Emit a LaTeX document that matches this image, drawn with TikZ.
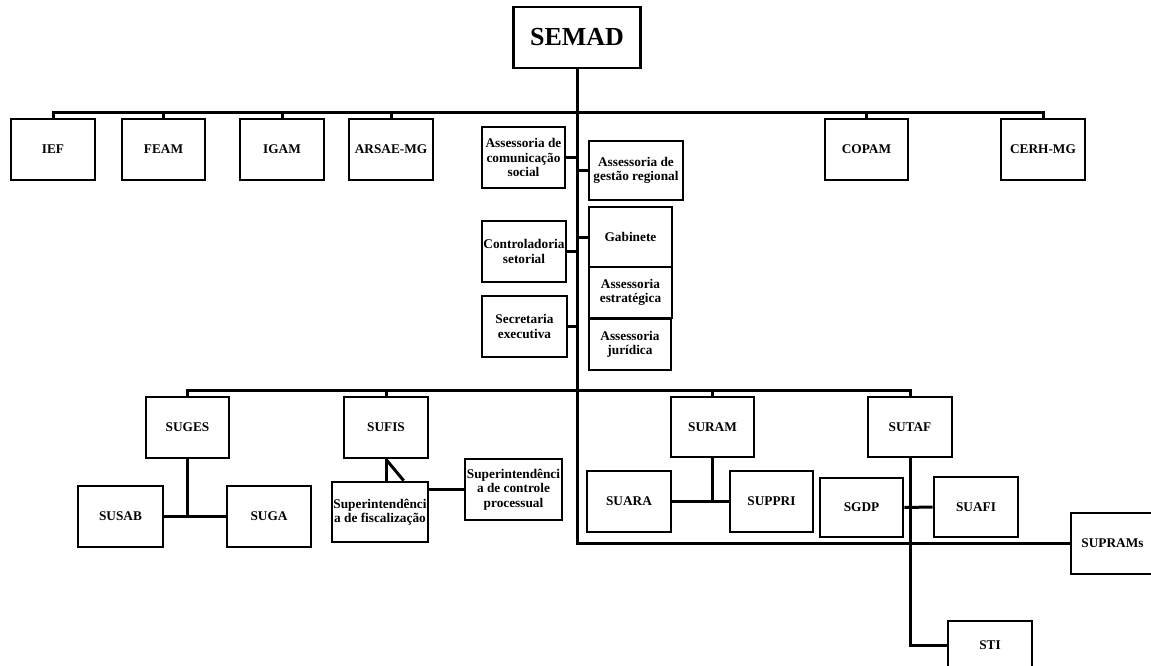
\documentclass[tikz,border=0pt]{standalone}
\usepackage{fontspec}
\setmainfont{Liberation Serif}
\usetikzlibrary{calc}
\begin{document}
\begin{tikzpicture}[x=1pt,y=-1pt,
  box/.style={draw, line width=2.7pt, inner sep=0pt, align=center, fill=white,
    font=\bfseries\fontsize{13.3}{14.5}\selectfont},
  big/.style={font=\bfseries\fontsize{26}{28}\selectfont},
  ln/.style={line width=3pt}]
\useasboundingbox (0,0) rectangle (1151,666);
\clip (0,0) rectangle (1151,666);
\newcommand\bx[6]{\node[box,minimum width=#4pt,minimum height=#5pt] (#1) at (#2,#3) {#6};}
% top
\node[box,big,minimum width=127pt,minimum height=61pt] (semad) at (577,37.5) {SEMAD};
\bx{ief}{53}{149.5}{84}{61}{IEF}
\bx{feam}{163.5}{149.5}{83}{61}{FEAM}
\bx{igam}{282}{149.5}{84}{61}{IGAM}
\bx{arsae}{391}{149.5}{84}{61}{ARSAE-MG}
\bx{copam}{866.5}{149.5}{83}{61}{COPAM}
\bx{cerh}{1043}{149.5}{84}{61}{CERH-MG}
% middle staff
\bx{acs}{523.5}{157.5}{83}{61}{Assessoria de\\comunicação\\social}
\bx{agr}{636}{170.5}{94}{59}{Assessoria de\\gestão regional}
\bx{ctrl}{524}{251.5}{84}{61}{Controladoria\\setorial}
\bx{gab}{630.5}{237}{83}{60}{Gabinete}
\bx{aest}{630.5}{292.5}{83}{51}{Assessoria\\estratégica}
\bx{sec}{524.5}{326.5}{85}{61}{Secretaria\\executiva}
\bx{jur}{630}{344.5}{82}{51}{Assessoria\\jurídica}
% bottom
\bx{suges}{187.5}{427.5}{83}{61}{SUGES}
\bx{sufis}{386}{427.5}{84}{61}{SUFIS}
\bx{suram}{712.5}{427}{83}{60}{SURAM}
\bx{sutaf}{910}{427}{84}{60}{SUTAF}
\bx{susab}{120.5}{516.5}{85}{61}{SUSAB}
\bx{suga}{269}{516.5}{84}{61}{SUGA}
\bx{fisc}{380}{512}{96}{60}{Superintendênci\\a de fiscalização}
\bx{ctrlp}{513.5}{489.5}{97}{61}{Superintendênci\\a de controle\\processual}
\bx{suara}{629}{501.5}{84}{61}{SUARA}
\bx{suppri}{771.5}{501.5}{83}{61}{SUPPRI}
\bx{sgdp}{861.5}{507.5}{83}{59}{SGDP}
\bx{suafi}{976}{507}{84}{60}{SUAFI}
\bx{suprams}{1112.5}{543.5}{83}{61}{SUPRAMs}
\bx{sti}{990}{645}{84}{48}{STI}
% connectors top
\coordinate (bar) at (577,113);
\coordinate (bbar) at (577,390);
\coordinate (sp) at (577,543.5);
\draw[ln] (semad.south) -- (bar);
\draw[ln] (ief.north) |- (bar) -| (cerh.north);
\foreach \n in {feam,igam,arsae,copam} \draw[ln] (\n.north) -- (\n.north |- bar);
\draw[ln] (bar) -- (sp) -- (suprams.west);
\foreach \n in {acs,ctrl,sec} \draw[ln] (\n.east) -- (\n.east -| bar);
\draw[ln] (agr.west) -- (agr.west -| bar);
\draw[ln] (gab.west) -- (gab.west -| bar);
\draw[ln] ($(aest.north west)!0.4!(aest.south west)$) -- ($(aest.north west)!0.4!(aest.south west)$ -| bar);
\draw[ln] ($(jur.north west)!0.45!(jur.south west)$) -- ($(jur.north west)!0.45!(jur.south west)$ -| bar);
% bottom bar
\draw[ln] (suges.north) |- (bbar) -| (sutaf.north);
\draw[ln] (sufis.north) -- (sufis.north |- bbar);
\draw[ln] (suram.north) -- (suram.north |- bbar);
% SUGES
\draw[ln] (suges.south) -- (suges.south |- susab.east);
\draw[ln] (susab.east) -- (suga.west);
% SUFIS
\draw[ln] (sufis.south) -- (sufis.south |- fisc.north);
\draw[ln] (sufis.south) -- ($(fisc.north west)!0.74!(fisc.north east)$);
\draw[ln] (fisc.east |- ctrlp.west) -- (ctrlp.west);
% SURAM
\draw[ln] (suram.south) -- (suram.south |- suara.east);
\draw[ln] (suara.east) -- (suppri.west);
% SUTAF
\draw[ln] (sutaf.south) |- (sti.west);
\draw[ln] (sgdp.east) -- (suafi.west);
\end{tikzpicture}
\end{document}
